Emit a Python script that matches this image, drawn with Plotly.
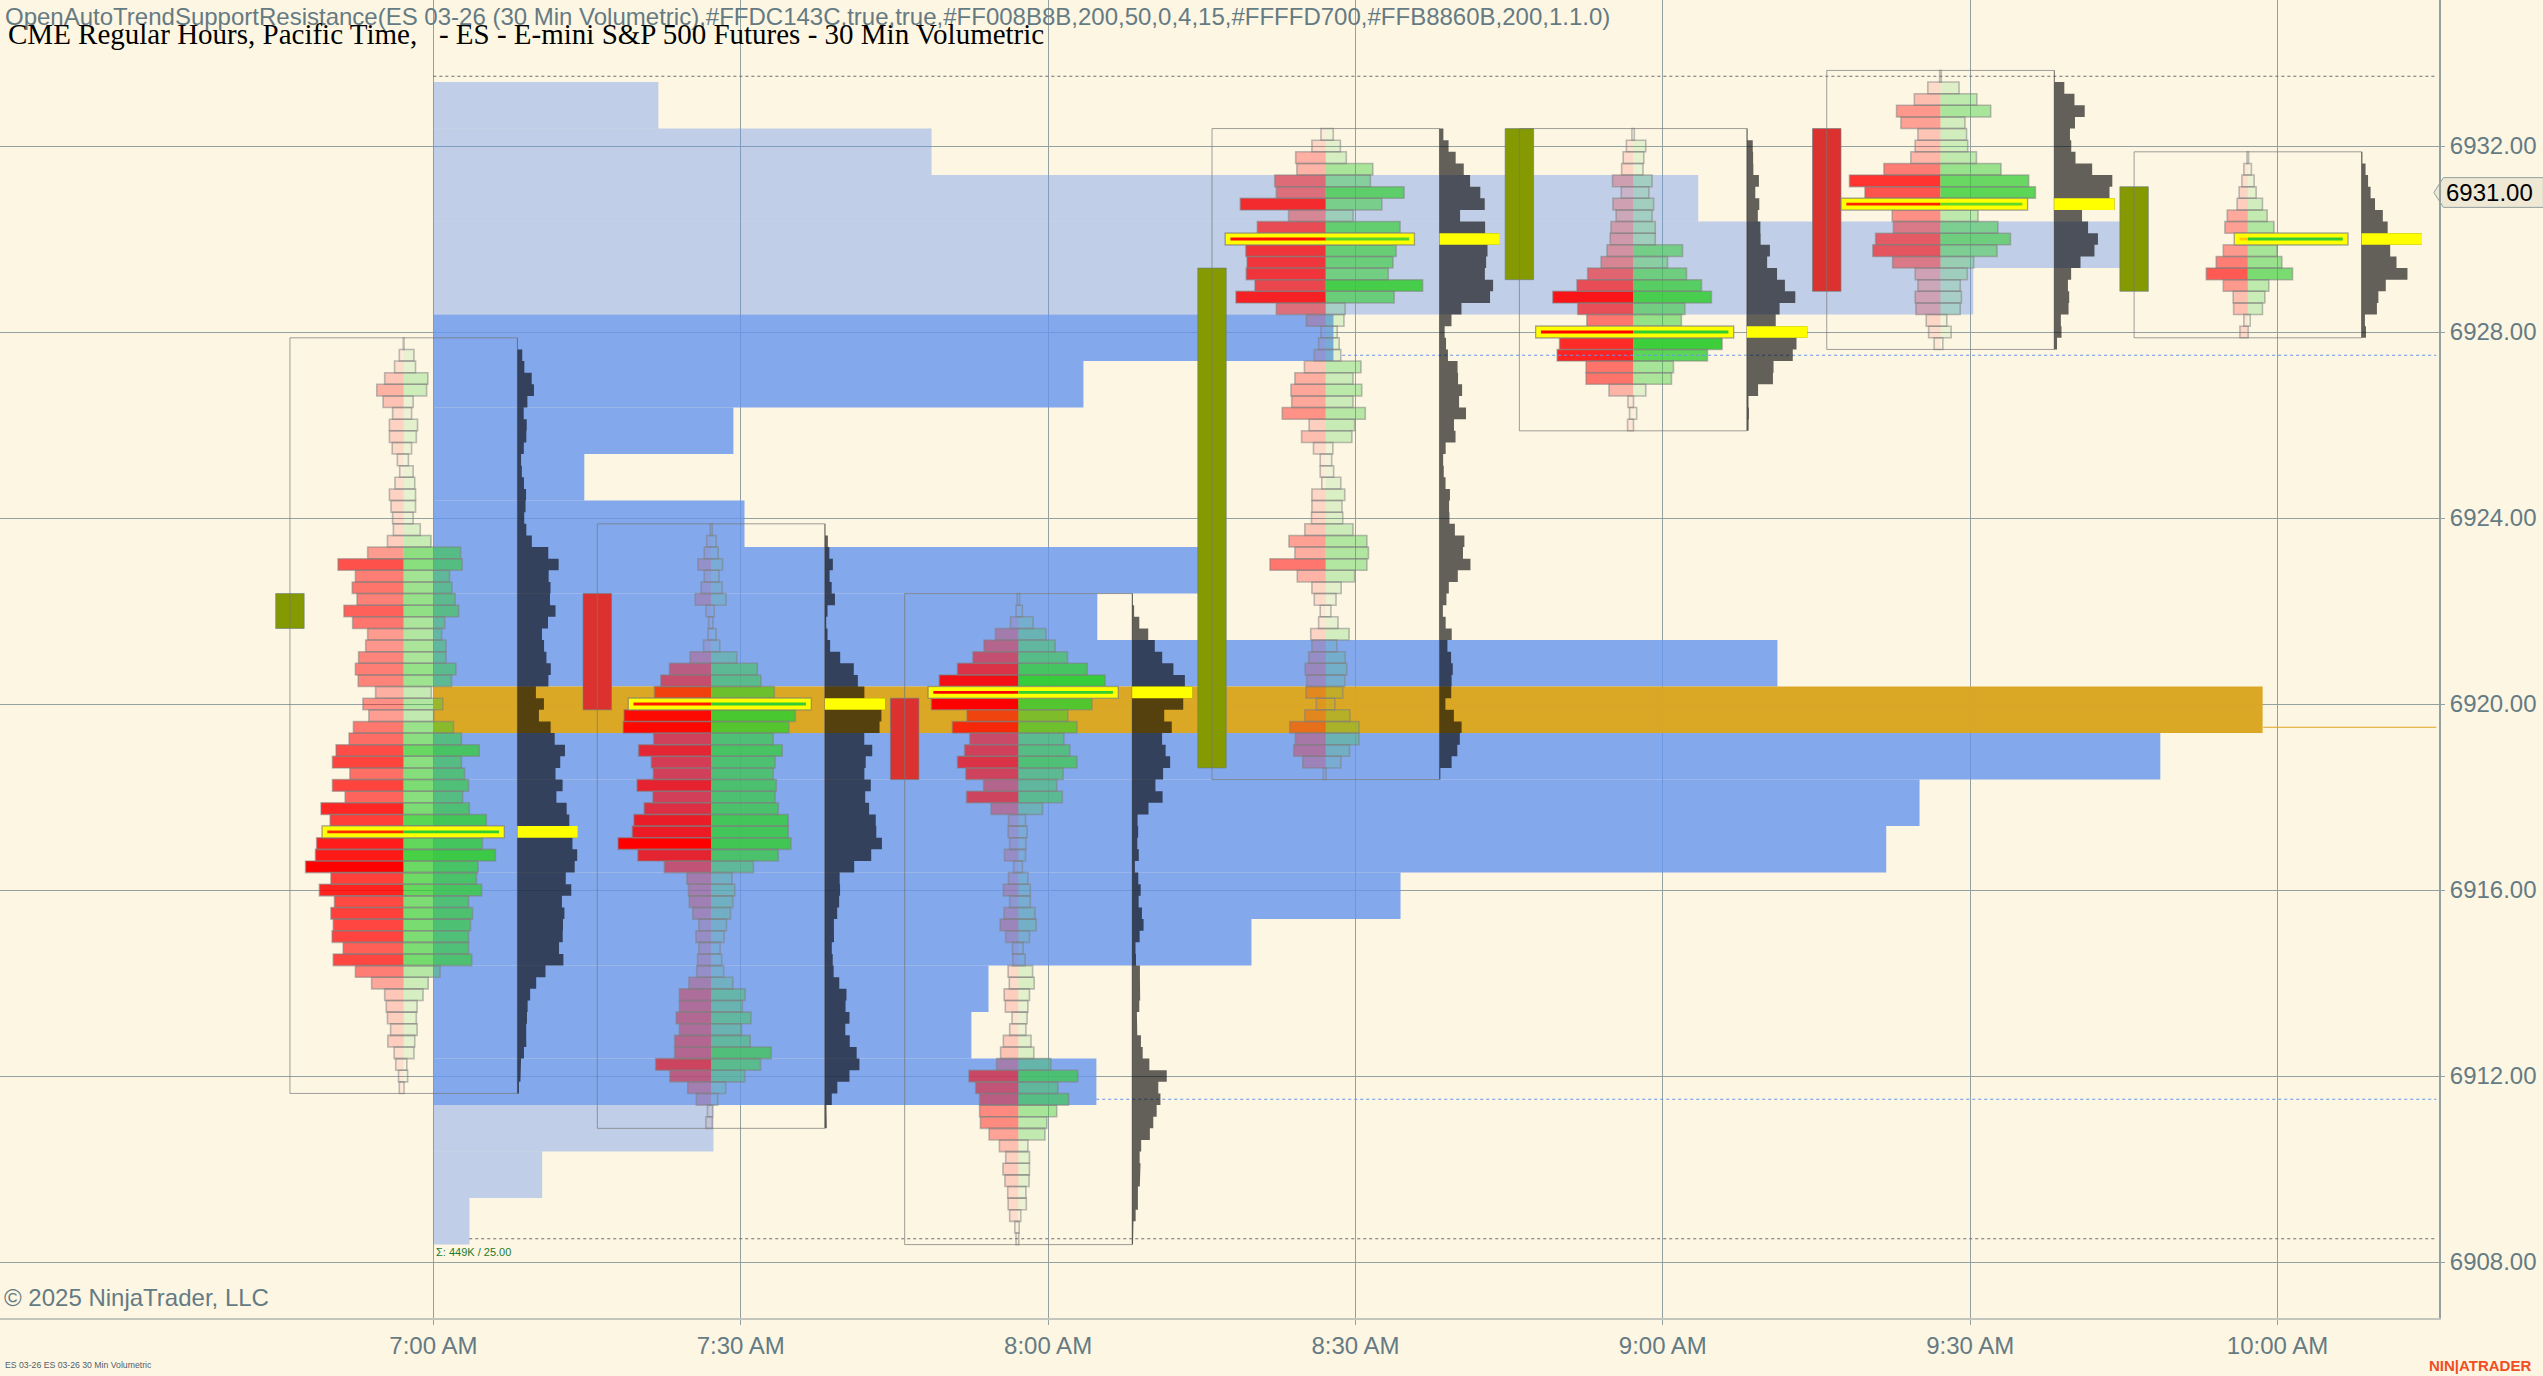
import plotly.graph_objects as go

# Session volume profile, 1 point rows, top row first
session_top = 6932.875
session_vol = [4860, 10760, 27320, 36440, 33260, 19440, 14040, 6480, 3260, 6720, 16780, 14340, 29030,
               39510, 37300, 32100, 31380, 20890, 17670, 11990, 11620, 14320, 6050, 2350, 780]

# 30 min bars: open, close, high, low
bar_time = [-14, 16, 46, 76, 106, 136, 166]
bar_open = [6921.625, 6922.375, 6920.125, 6918.625, 6929.125, 6932.375, 6928.875]
bar_close = [6922.375, 6919.875, 6918.375, 6929.375, 6932.375, 6928.875, 6931.125]
bar_high = [6927.75, 6923.75, 6922.25, 6932.25, 6932.25, 6933.5, 6931.75]

# Volumetric rows, high to low, one tick each
bar1_bid = [1, 11, 23, 48, 68, 52, 28, 36, 36, 29, 16, 10, 22, 36, 32, 28, 26, 41, 91, 166, 122, 130, 118, 151, 129, 91, 96,
            114, 122, 115, 71, 103, 88, 127, 138, 171, 180, 136, 180, 148, 209, 186, 206, 220, 223, 248, 184, 213, 175,
            184, 178, 181, 153, 178, 122, 81, 48, 44, 41, 33, 40, 24, 20, 13, 11]
bar1_ask = [1, 26, 30, 61, 58, 24, 20, 35, 32, 20, 12, 24, 28, 30, 30, 24, 42, 69, 144, 148, 116, 122, 130, 139, 104, 96, 107,
            107, 132, 121, 70, 99, 76, 126, 146, 191, 146, 154, 164, 149, 166, 209, 254, 199, 232, 188, 184, 197, 164,
            174, 169, 164, 164, 172, 92, 62, 49, 34, 32, 34, 28, 26, 8, 10, 1]
bar2_bid = [2, 11, 17, 33, 17, 25, 40, 13, 6, 8, 19, 53, 105, 127, 143, 209, 220, 222, 145, 183, 151, 146, 187, 147, 169,
            195, 199, 235, 185, 118, 61, 57, 55, 46, 31, 38, 31, 34, 36, 56, 80, 80, 88, 80, 92, 92, 140, 104, 59, 37, 9, 13]
bar2_ask = [3, 13, 18, 29, 20, 28, 38, 8, 5, 13, 22, 65, 117, 126, 160, 253, 213, 197, 157, 180, 162, 157, 165, 162, 170,
            195, 195, 202, 170, 107, 53, 60, 55, 49, 39, 33, 23, 27, 32, 55, 86, 79, 101, 77, 99, 152, 125, 85, 37, 17, 4, 3]
bar3_bid = [3, 6, 20, 58, 87, 115, 154, 200, 228, 220, 130, 167, 123, 136, 154, 133, 88, 131, 69, 25, 26, 22, 35, 12, 25, 38,
            22, 36, 46, 32, 15, 14, 26, 23, 36, 33, 16, 22, 38, 45, 55, 125, 108, 98, 98, 96, 74, 48, 32, 39, 34, 27, 26, 22, 9, 6]
bar3_ask = [3, 10, 37, 70, 93, 124, 174, 219, 252, 186, 125, 148, 115, 130, 148, 113, 97, 111, 61, 18, 22, 19, 18, 10, 24, 30,
            30, 42, 45, 28, 12, 17, 36, 40, 28, 24, 22, 19, 32, 39, 82, 150, 100, 127, 97, 72, 67, 24, 28, 28, 27, 19, 20, 6, 2, 1]
bar4_bid = [12, 35, 76, 73, 129, 125, 216, 94, 173, 254, 202, 199, 201, 179, 227, 125, 49, 12, 18, 29, 54, 78, 88, 86, 110, 42,
            61, 31, 14, 14, 10, 35, 35, 36, 53, 93, 78, 141, 72, 35, 29, 14, 18, 38, 35, 43, 52, 48, 50, 24, 53, 91, 77, 81, 58, 6]
bar4_ask = [19, 37, 52, 119, 113, 198, 142, 69, 188, 224, 178, 170, 158, 245, 173, 49, 46, 29, 34, 38, 89, 69, 91, 69, 100, 73,
            66, 18, 15, 20, 38, 48, 41, 43, 69, 104, 108, 104, 73, 39, 26, 13, 31, 59, 28, 49, 53, 48, 43, 23, 61, 84, 84, 60, 38, 1]
bar5_bid = [3, 17, 25, 29, 52, 30, 51, 43, 56, 58, 66, 81, 115, 142, 203, 140, 117, 246, 186, 192, 119, 119, 61, 13, 9, 14]
bar5_ask = [3, 32, 27, 25, 48, 40, 52, 48, 56, 56, 125, 87, 135, 173, 198, 131, 122, 254, 225, 188, 102, 97, 32, 1, 9, 1]
bar6_bid = [2, 32, 66, 111, 100, 57, 64, 75, 143, 230, 191, 251, 122, 119, 164, 171, 121, 64, 57, 64, 62, 36, 30, 16]
bar6_ask = [2, 47, 92, 127, 62, 66, 69, 91, 153, 223, 240, 220, 95, 145, 177, 143, 84, 68, 50, 53, 50, 16, 27, 6]
bar7_bid = [2, 10, 15, 22, 27, 52, 58, 34, 62, 80, 105, 62, 37, 36, 10, 20]
bar7_ask = [2, 9, 16, 21, 37, 49, 66, 253, 74, 86, 113, 53, 43, 37, 6, 1]
bar_bids = [bar1_bid, bar2_bid, bar3_bid, bar4_bid, bar5_bid, bar6_bid, bar7_bid]
bar_asks = [bar1_ask, bar2_ask, bar3_ask, bar4_ask, bar5_ask, bar6_ask, bar7_ask]

# Side volume that gives the strongest row colour in each bar
bar_full_color = [248, 235, 220, 270, 225, 290, 165]

y_ticks = [6908, 6912, 6916, 6920, 6924, 6928, 6932]
x_ticks = [0, 30, 60, 90, 120, 150, 180]
x_labels = ['7:00 AM', '7:30 AM', '8:00 AM', '8:30 AM', '9:00 AM', '9:30 AM', '10:00 AM']
last_price = 6931.00

# price, start minute, colour, dash for the level lines
level_price = [6933.5, 6908.5, 6927.5, 6911.5, 6919.5]
level_start = [0, 3.5, 88.7, 64.7, 178.6]
level_color = ['#6e6e6e', '#6e6e6e', '#6495ED', '#6495ED', '#DAA520']
level_dash = ['dot', 'dot', 'dot', 'dot', 'solid']

BG = '#FDF6E3'
TEXT = '#657B83'
GRID = '#93A1A1'
W, H = 2543, 1376
PLOT_W, PLOT_H = 2438.6, 1318
TICK = 0.25
MIN_PER_UNIT = 0.0386
MIN_PER_SESSION_VOL = 0.004519
HIST_W = 5.9
BOX_W = 22.2
CANDLE_W = 2.78
OUTLINE = 'rgba(125,125,125,0.5)'


def rgba(rgb, a):
    return f'rgba({rgb},{min(1, a):.3f})'


def hbar(y, x, base, width, color, line=None, line_w=0):
    # every mark is a horizontal bar, so time stays on x and price on y
    return go.Bar(orientation='h', y=y, x=x, base=base, width=width,
                  marker=dict(color=color, line=dict(color=line, width=line_w)),
                  hoverinfo='skip', showlegend=False)


def filled(x, y, color):
    # plotly puts scatter above all bars, the histogram has to sit on top anyway
    return go.Scatter(x=x, y=y, mode='lines', line=dict(width=0), fill='toself', fillcolor=color,
                      hoverinfo='skip', showlegend=False)


fig = go.Figure()

# session profile
session_y = [session_top - i for i in range(len(session_vol))]
poc = session_vol.index(max(session_vol))
session_colors = []
for i in range(len(session_vol)):
    if i == poc:
        session_colors.append('rgba(218,165,32,0.97)')
    elif 5 <= i <= 21:
        session_colors.append('rgba(100,149,237,0.8)')
    else:
        session_colors.append('rgba(100,149,237,0.4)')
fig.add_trace(hbar(session_y, [v * MIN_PER_SESSION_VOL for v in session_vol], 0, 1, session_colors))

# level lines
for p, s, c, d in zip(level_price, level_start, level_color, level_dash):
    fig.add_trace(go.Scatter(x=[s, 195.5], y=[p, p], mode='lines', line=dict(color=c, width=1, dash=d),
                             hoverinfo='skip', showlegend=False))

for i, t in enumerate(bar_time):
    bid = bar_bids[i]
    ask = bar_asks[i]
    ys = [bar_high[i] - k * TICK for k in range(len(bid))]
    low = ys[-1]
    mid = t + BOX_W / 2
    right = t + BOX_W
    totals = [a + b for a, b in zip(bid, ask)]
    p_i = totals.index(max(totals))
    full = bar_full_color[i]

    # box round the bar
    fig.add_trace(go.Scatter(x=[t, right, right, t, t],
                             y=[bar_high[i] + 0.125, bar_high[i] + 0.125, low - 0.125, low - 0.125, bar_high[i] + 0.125],
                             mode='lines', line=dict(color='rgba(120,120,120,0.7)', width=1),
                             hoverinfo='skip', showlegend=False))

    # candle body
    fig.add_trace(hbar([(bar_open[i] + bar_close[i]) / 2], [CANDLE_W], t - CANDLE_W / 2,
                       abs(bar_close[i] - bar_open[i]),
                       '#859900' if bar_close[i] > bar_open[i] else '#DC322F', 'rgba(101,123,131,0.6)', 1))

    # bid, ask and the row outline
    bid_x = [v * MIN_PER_UNIT for v in bid]
    ask_x = [v * MIN_PER_UNIT for v in ask]
    left = [mid - v for v in bid_x]
    fig.add_trace(hbar(ys, bid_x, left, TICK, [rgba('255,0,0', v / full) for v in bid]))
    fig.add_trace(hbar(ys, ask_x, mid, TICK, [rgba('50,205,50', v / (full * 1.05)) for v in ask]))
    fig.add_trace(hbar(ys, [a + b for a, b in zip(bid_x, ask_x)], left, TICK, 'rgba(0,0,0,0)', OUTLINE, 1.6))

    # total volume next to the box, one filled outline so the rows leave no seams
    hist_x = [right]
    hist_y = [bar_high[i] + TICK / 2]
    for y, v in zip(ys, totals):
        hist_x += [right + v / totals[p_i] * HIST_W] * 2
        hist_y += [y + TICK / 2, y - TICK / 2]
    hist_x.append(right)
    hist_y.append(low - TICK / 2)
    fig.add_trace(filled(hist_x, hist_y, 'rgba(0,0,0,0.61)'))

    # point of control row
    fig.add_trace(hbar([ys[p_i]], [bid_x[p_i] + ask_x[p_i]], left[p_i], TICK, '#FFFF00', OUTLINE, 1.2))
    fig.add_trace(hbar([ys[p_i]], [bid_x[p_i] - 0.5], left[p_i] + 0.5, 0.06, rgba('255,0,0', bid[p_i] / full)))
    fig.add_trace(hbar([ys[p_i]], [ask_x[p_i] - 0.5], mid, 0.06, rgba('50,205,50', ask[p_i] / full)))
    top, bottom = ys[p_i] + TICK / 2, ys[p_i] - TICK / 2
    fig.add_trace(filled([right, right + HIST_W, right + HIST_W, right, right], [top, top, bottom, bottom, top], '#FFFF00'))


def note(text, px, py, size, color, font='Liberation Sans', anchor='left'):
    fig.add_annotation(text=text, xref='paper', yref='paper', x=px / PLOT_W, y=1 - py / PLOT_H,
                       xanchor=anchor, yanchor='middle', showarrow=False, borderpad=0,
                       font=dict(family=font, size=size, color=color))


note('OpenAutoTrendSupportResistance(ES 03-26 (30 Min Volumetric),#FFDC143C,true,true,#FF008B8B,200,50,0,4,15,'
     '#FFFFD700,#FFB8860B,200,1.1.0)', 4, 17, 24, TEXT)
note('CME Regular Hours, Pacific Time,&nbsp;&nbsp; - ES - E-mini S&P 500 Futures - 30 Min Volumetric', 7, 34, 29,
     '#000000', font='Liberation Serif')
note('© 2025 NinjaTrader, LLC', 3, 1297, 24, TEXT)
note('Σ: 449K / 25.00', 435, 1252, 11, '#1c7a2c')
note('ES 03-26 ES 03-26 30 Min Volumetric', 4, 1365, 8.7, '#50606a')
note('<b>NIN|ATRADER</b>', 2428, 1365, 15, '#F04E23')
note('6931.00', 2489, 192, 24, '#000000', anchor='center')

# last price tag on the axis
tag_x = [2433.5 / PLOT_W, 2443 / PLOT_W, 2543 / PLOT_W]
tag_path = (f'M {tag_x[0]} {last_price} L {tag_x[1]} {last_price + 0.32} L {tag_x[2]} {last_price + 0.32} '
            f'L {tag_x[2]} {last_price - 0.32} L {tag_x[1]} {last_price - 0.32} Z')
fig.add_shape(type='path', path=tag_path, xref='paper', yref='y', fillcolor='#EEE8D5',
              line=dict(color=GRID, width=1), layer='below')

fig.update_layout(
    width=W, height=H,
    margin=dict(l=0, r=W - PLOT_W, t=0, b=H - PLOT_H, pad=0),
    paper_bgcolor=BG, plot_bgcolor=BG,
    barmode='overlay', showlegend=False,
    hovermode=False,
    font=dict(family='Liberation Sans', color=TEXT),
    xaxis=dict(range=[-42.3, 195.76], tickvals=x_ticks, ticktext=x_labels, showgrid=True, gridcolor=GRID, gridwidth=1,
               zeroline=False, ticks='outside', ticklen=5, tickcolor=GRID, tickfont=dict(size=24, color=TEXT),
               showline=True, linecolor='#C4C6BE', linewidth=2),
    yaxis=dict(range=[6906.796, 6935.14], side='right', tickvals=y_ticks, tickformat='.2f', showgrid=True,
               gridcolor=GRID, gridwidth=1, zeroline=False, ticks='outside', ticklen=4, tickcolor=GRID,
               tickfont=dict(size=24, color=TEXT), showline=True, linecolor=GRID, linewidth=2),
)

fig.write_html("out.html", config={'displayModeBar': False},
               post_script="document.body.style.margin='0';document.body.style.background='#FDF6E3';")
